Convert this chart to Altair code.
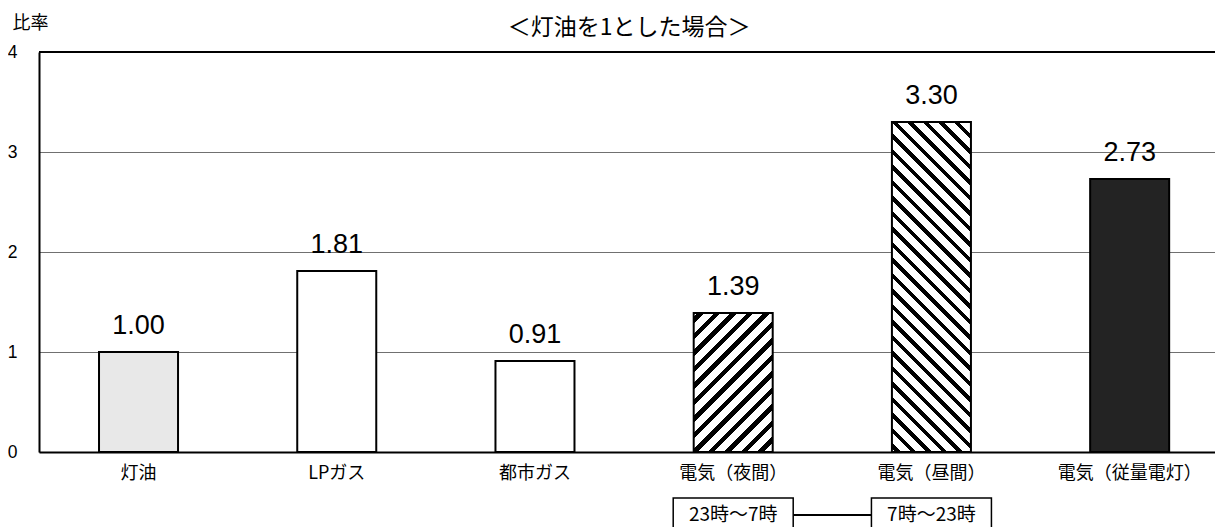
import altair as alt
import pandas as pd

# ---- data ----
categories = ['灯油', 'LPガス', '都市ガス', '電気（夜間）', '電気（昼間）', '電気（従量電灯）']
ratios = [1.00, 1.81, 0.91, 1.39, 3.30, 2.73]
y_ticks = [0, 1, 2, 3, 4]
time_cats = ['電気（夜間）', '電気（昼間）']
time_labels = ['23時～7時', '7時～23時']
chart_title = '＜灯油を1とした場合＞'
y_title = '比率'

df = pd.DataFrame({'cat': categories, 'ratio': ratios})
df_time = pd.DataFrame({'cat': time_cats, 'label': time_labels})
df_link = pd.DataFrame({'cat': [time_cats[0]], 'cat2': [time_cats[1]]})
df_title = pd.DataFrame({'t': [chart_title]})

# ---- layout / style ----
PLOT_W, PLOT_H = 1176, 400
Y_MAX = 4
PX_PER_UNIT = PLOT_H / Y_MAX
BAR_W = 79
JP = 'Noto Sans CJK JP'
LATIN = 'Liberation Sans'


def stripe_gradient(h, w, period, black_frac, rising, phase):
    """Linear gradient with hard stops that draws 45-degree hatching."""
    r = w / h
    b = (1 + r) / (1 + r * r)
    a = r * b
    L = w + h
    stops = [alt.GradientStop(offset=0, color='white')]
    k = 0
    while True:
        s = phase + k * period
        if s >= L:
            break
        e = min(s + black_frac * period, L)
        stops += [
            alt.GradientStop(offset=s / L, color='white'),
            alt.GradientStop(offset=s / L, color='black'),
            alt.GradientStop(offset=e / L, color='black'),
            alt.GradientStop(offset=e / L, color='white'),
        ]
        k += 1
    stops.append(alt.GradientStop(offset=1, color='white'))
    if rising:   # "///"
        return alt.LinearGradient(gradient='linear', stops=stops, x1=0, y1=0, x2=a, y2=b)
    # "\\\"
    return alt.LinearGradient(gradient='linear', stops=stops, x1=0, y1=1, x2=a, y2=1 - b)


h_night = ratios[categories.index('電気（夜間）')] * PX_PER_UNIT
h_day = ratios[categories.index('電気（昼間）')] * PX_PER_UNIT

fills = {
    '灯油': '#e8e8e8',
    'LPガス': 'white',
    '都市ガス': 'white',
    '電気（夜間）': stripe_gradient(h_night, BAR_W, 16.5, 0.4, True, 4),
    '電気（昼間）': stripe_gradient(h_day, BAR_W, 15.5, 0.35, False, 4),
    '電気（従量電灯）': '#232323',
}

X = alt.X(
    'cat:N',
    scale=alt.Scale(domain=categories, paddingInner=0.6014, paddingOuter=0.267, align=0.567),
    axis=alt.Axis(
        title=None, labelAngle=0, labelFontSize=18, labelFont=JP, labelColor='black',
        labelPadding=12, ticks=False, tickSize=0, domainColor='black', domainWidth=2,
        grid=False,
    ),
)
Y = alt.Y(
    'ratio:Q',
    scale=alt.Scale(domain=[0, Y_MAX], nice=False),
    axis=alt.Axis(
        values=y_ticks, format='d', title=y_title, titleAngle=0, titleX=-27, titleY=-29,
        titleAlign='left', titleBaseline='middle', titleFontSize=18, titleFont=JP,
        titleFontWeight='normal', titleColor='black',
        labelFontSize=17.5, labelFont=LATIN, labelColor='black', labelPadding=22,
        labelAlign='right', ticks=False, tickSize=0, domainColor='black', domainWidth=2,
        gridColor='#707070', gridWidth=1,
    ),
)

base = alt.Chart(df)

bar_layers = [
    base.transform_filter(alt.datum.cat == c)
    .mark_bar(fill=fills[c], stroke='black', strokeWidth=2)
    .encode(x=X, y=Y)
    for c in categories
]

value_labels = base.mark_text(
    dy=-18, baseline='alphabetic', fontSize=27, font=LATIN, color='black'
).encode(x=X, y=Y, text=alt.Text('ratio:Q', format='.2f'))

top_line = alt.Chart(df).mark_rule(color='black', strokeWidth=2).encode(y=alt.datum(Y_MAX))

link = alt.Chart(df_link).mark_rule(color='black', strokeWidth=2).encode(
    x=X, x2='cat2:N', y=alt.value(463)
)
boxes = alt.Chart(df_time).mark_bar(
    width=120, fill='white', stroke='black', strokeWidth=1.5
).encode(x=X, y=alt.value(446), y2=alt.value(480))
box_text = alt.Chart(df_time).mark_text(
    fontSize=19, font=JP, color='black', baseline='middle'
).encode(x=X, y=alt.value(463), text='label:N')

title_text = alt.Chart(df_title).mark_text(
    fontSize=23, font=JP, color='black', baseline='middle', align='center'
).encode(x=alt.value(590), y=alt.value(-24), text='t:N')

chart = alt.layer(
    *bar_layers, top_line, value_labels, link, boxes, box_text, title_text
).properties(
    width=PLOT_W,
    height=PLOT_H,
    padding={'left': 31, 'top': 44, 'right': 0, 'bottom': 75},
    autosize=alt.AutoSizeParams(type='none'),
).configure_view(stroke='transparent')

chart.save('out.html', embed_options={'renderer': 'svg', 'actions': False})
